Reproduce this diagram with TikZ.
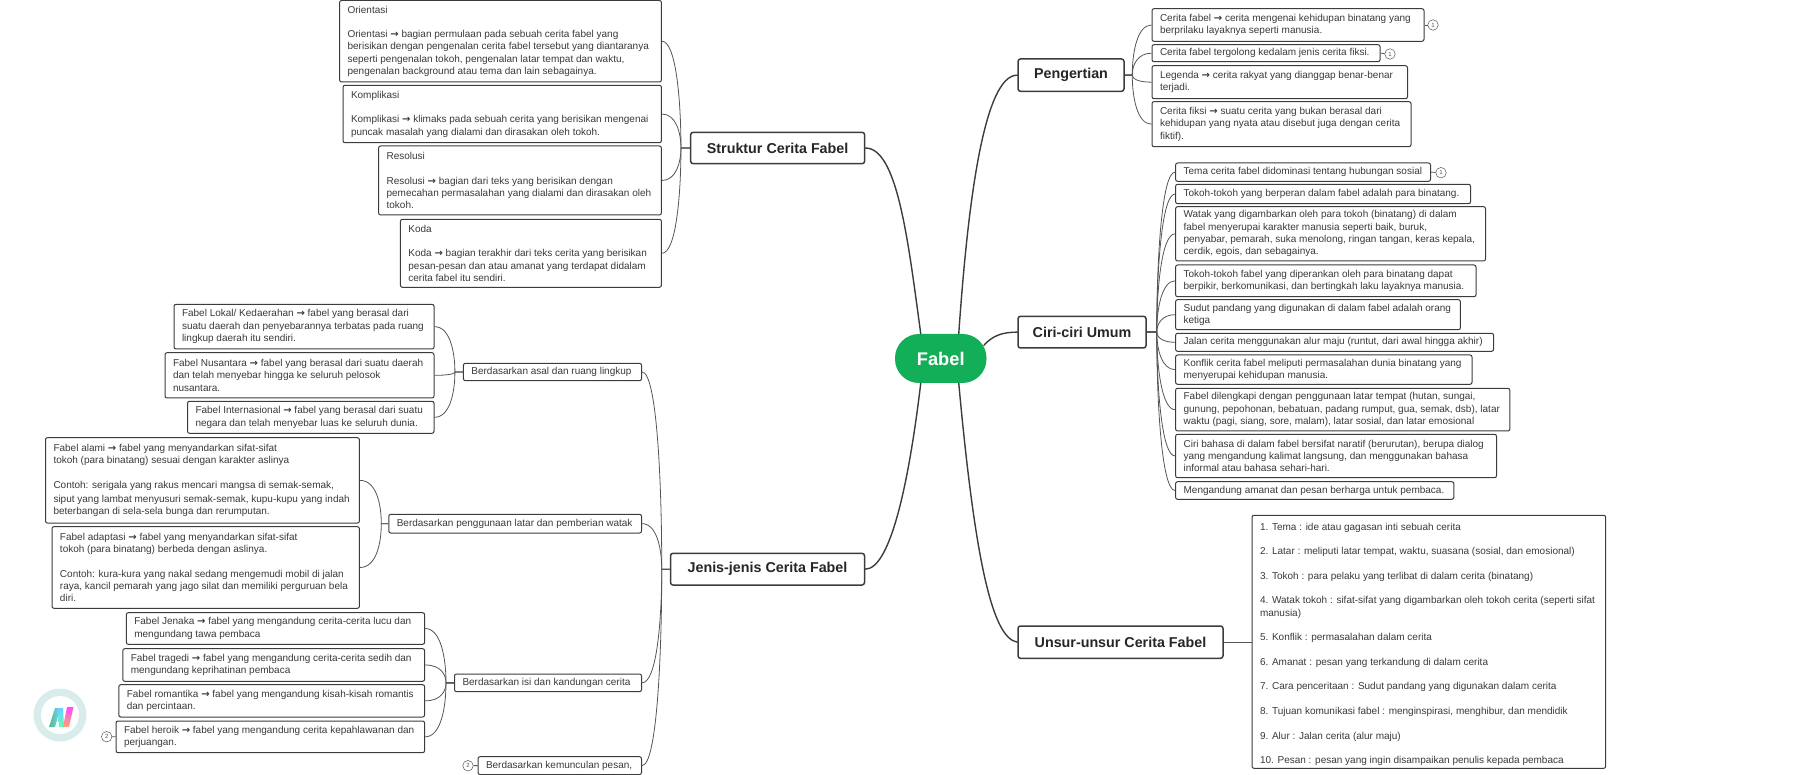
\documentclass[tikz,border=0pt]{standalone}
\usepackage{fontspec}
\setmainfont{Liberation Sans}
\newfontfamily\arrowfont{DejaVu Sans}[Scale=1.0]
\newcommand\arr{{\arrowfont\bfseries →}}
\usetikzlibrary{calc,shapes.geometric}
\definecolor{txt}{HTML}{3A3A3A}
\definecolor{edge}{HTML}{3C3C3C}
\definecolor{wire}{HTML}{555555}
\definecolor{fabelgreen}{HTML}{12AE58}
\tikzset{
  leaf/.style={draw=edge,line width=1pt,rounded corners=2pt,fill=white,text=txt,inner sep=0pt,
    font=\fontsize{10}{12.3}\selectfont,anchor=center},
  branch/.style={draw=edge,line width=1.5pt,rounded corners=2.5pt,fill=white,text=black!85,inner sep=0pt,
    font=\fontsize{14.3}{16}\selectfont\bfseries,align=center,anchor=center},
  trunk/.style={draw=edge,line width=1.4pt,line cap=round},
  twig/.style={draw=wire,line width=.8pt},
  badge/.style={draw=wire,line width=.5pt,circle,fill=white,minimum size=10.5pt,inner sep=0pt,text=wire,font=\fontsize{6}{6}\selectfont},
}
% name, x1,y1,x2,y2, text: box whose text starts 8 px from its left edge
\newcommand\leafbox[6]{%
  \pgfmathsetmacro\boxw{#4-#2}\pgfmathsetmacro\boxh{#5-#3}%
  \pgfmathsetmacro\textw{\boxw-8}%
  \node[leaf,minimum width=\boxw pt,minimum height=\boxh pt] (#1) at ({(#2+#4)/2},{(#3+#5)/2}) {\hspace*{8pt}\parbox[c]{\textw pt}{\raggedright\hyphenpenalty=10000 #6}};}
\newcommand\branchbox[6]{%
  \pgfmathsetmacro\boxw{#4-#2}\pgfmathsetmacro\boxh{#5-#3}%
  \node[branch,minimum width=\boxw pt,minimum height=\boxh pt] (#1) at ({(#2+#4)/2},{(#3+#5)/2}) {#6};}
% parent, child, stub: twig leaving to the right / to the left
\newcommand\twigR[3]{\draw[twig] (#1.east) -- ++(#3,0) coordinate (hub) .. controls ($(hub)!.45!(hub |- #2.west)$) and ($(hub |- #2.west)+(5,0)$) .. (#2.west);}
\newcommand\twigL[3]{\draw[twig] (#1.west) -- ++(-#3,0) coordinate (hub) .. controls ($(hub)!.45!(hub |- #2.east)$) and ($(hub |- #2.east)+(-5,0)$) .. (#2.east);}
\begin{document}
\begin{tikzpicture}[x=1pt,y=-1pt]
\useasboundingbox (0,0) rectangle (1800,775);
\clip (0,0) rectangle (1800,775);

% central
\node[fill=fabelgreen,rounded corners=24pt,minimum width=91.5pt,minimum height=49pt,inner sep=0pt,text=white,font=\fontsize{18.3}{20}\selectfont\bfseries] (fabel) at (940.75,358.5) {Fabel};

% branches
\branchbox{struktur}{690.7}{132.3}{864.6}{163.7}{Struktur Cerita Fabel}
\branchbox{jenis}{670.5}{553.3}{864.5}{585}{Jenis-jenis Cerita Fabel}
\branchbox{pengertian}{1018}{59}{1124}{91.3}{Pengertian}
\branchbox{ciri}{1018}{316.3}{1146}{348}{Ciri-ciri Umum}
\branchbox{unsur}{1018}{626}{1223}{658.3}{Unsur-unsur Cerita Fabel}

% trunk connectors
\draw[trunk] (pengertian.west) .. controls +(-33,0) and (968,200) .. ([xshift=18pt]fabel.north);
\draw[trunk] (ciri.west) .. controls +(-14,0) and (993,335) .. ([xshift=43pt,yshift=13pt]fabel.center);
\draw[trunk] (unsur.west) .. controls +(-25,-4) and (975,560) .. ([xshift=18pt]fabel.south);
\draw[trunk] (struktur.east) .. controls +(32,0) and (908,240) .. ([xshift=-20pt]fabel.north);
\draw[trunk] (jenis.east) .. controls +(24,0) and (908,490) .. ([xshift=-20pt]fabel.south);

% Struktur
\leafbox{orientasi}{339.6}{0.5}{661.4}{82}{Orientasi\\[12.3pt]Orientasi \arr{} bagian permulaan pada sebuah cerita fabel yang\\berisikan dengan pengenalan cerita fabel tersebut yang diantaranya\\seperti pengenalan tokoh, pengenalan latar tempat dan waktu,\\pengenalan background atau tema dan lain sebagainya.}
\leafbox{komplikasi}{343}{85.3}{661.4}{142.7}{Komplikasi\\[12.3pt]Komplikasi \arr{} klimaks pada sebuah cerita yang berisikan mengenai\\puncak masalah yang dialami dan dirasakan oleh tokoh.}
\leafbox{resolusi}{378.6}{146}{661.4}{215}{Resolusi\\[12.3pt]Resolusi \arr{} bagian dari teks yang berisikan dengan\\pemecahan permasalahan yang dialami dan dirasakan oleh\\tokoh.}
\leafbox{koda}{400.4}{219.3}{661.4}{287.3}{Koda\\[12.3pt]Koda \arr{} bagian terakhir dari teks cerita yang berisikan\\pesan-pesan dan atau amanat yang terdapat didalam\\cerita fabel itu sendiri.}
\twigL{struktur}{orientasi}{9}
\twigL{struktur}{komplikasi}{9}
\twigL{struktur}{resolusi}{9}
\twigL{struktur}{koda}{9}

% Jenis
\leafbox{asal}{463.4}{363.3}{641.5}{380.7}{Berdasarkan asal dan ruang lingkup}
\leafbox{guna}{388.8}{514.3}{641.5}{533}{Berdasarkan penggunaan latar dan pemberian watak}
\leafbox{isi}{454.5}{674}{641.5}{691.7}{Berdasarkan isi dan kandungan cerita}
\leafbox{muncul}{478}{756.7}{641.5}{774.5}{Berdasarkan kemunculan pesan,}
\twigL{jenis}{asal}{8}
\twigL{jenis}{guna}{8}
\twigL{jenis}{isi}{8}
\twigL{jenis}{muncul}{8}

\leafbox{lokal}{174}{304.3}{434}{349}{Fabel Lokal/ Kedaerahan \arr{} fabel yang berasal dari\\suatu daerah dan penyebarannya terbatas pada ruang\\lingkup daerah itu sendiri.}
\leafbox{nusantara}{165}{352.7}{434}{398}{Fabel Nusantara \arr{} fabel yang berasal dari suatu daerah\\dan telah menyebar hingga ke seluruh pelosok\\nusantara.}
\leafbox{internasional}{187.5}{401.3}{434}{433.3}{Fabel Internasional \arr{} fabel yang berasal dari suatu\\negara dan telah menyebar luas ke seluruh dunia.}
\twigL{asal}{lokal}{8}
\twigL{asal}{nusantara}{8}
\twigL{asal}{internasional}{8}

\leafbox{alami}{45.5}{437.7}{359.4}{523}{Fabel alami \arr{} fabel yang menyandarkan sifat-sifat\\tokoh (para binatang) sesuai dengan karakter aslinya\\[12.3pt]Contoh: serigala yang rakus mencari mangsa di semak-semak,\\[2pt]siput yang lambat menyusuri semak-semak, kupu-kupu yang indah\\beterbangan di sela-sela bunga dan rerumputan.}
\leafbox{adaptasi}{52}{526.7}{359.4}{608.3}{Fabel adaptasi \arr{} fabel yang menyandarkan sifat-sifat\\tokoh (para binatang) berbeda dengan aslinya.\\[12.3pt]Contoh: kura-kura yang nakal sedang mengemudi mobil di jalan\\raya, kancil pemarah yang jago silat dan memiliki perguruan bela\\diri.}
\twigL{guna}{alami}{7}
\twigL{guna}{adaptasi}{7}

\leafbox{jenaka}{126.3}{612.7}{424.6}{644.3}{Fabel Jenaka \arr{} fabel yang mengandung cerita-cerita lucu dan\\mengundang tawa pembaca}
\leafbox{tragedi}{122.8}{648.7}{424.6}{681.3}{Fabel tragedi \arr{} fabel yang mengandung cerita-cerita sedih dan\\mengundang keprihatinan pembaca}
\leafbox{romantika}{118.8}{684.7}{424.6}{717}{Fabel romantika \arr{} fabel yang mengandung kisah-kisah romantis\\dan percintaan.}
\leafbox{heroik}{116}{721}{424.6}{752.7}{Fabel heroik \arr{} fabel yang mengandung cerita kepahlawanan dan\\perjuangan.}
\twigL{isi}{jenaka}{8}
\twigL{isi}{tragedi}{8}
\twigL{isi}{romantika}{8}
\twigL{isi}{heroik}{8}

\node[badge] (bheroik) at (106.7,736.7) {2};
\draw[twig] (heroik.west) -- (bheroik);
\node[badge] (bmuncul) at (468,765.7) {2};
\draw[twig] (muncul.west) -- (bmuncul);

% Pengertian
\leafbox{p1}{1152}{8.7}{1424}{41.3}{Cerita fabel \arr{} cerita mengenai kehidupan binatang yang\\berprilaku layaknya seperti manusia.}
\leafbox{p2}{1152}{44.7}{1380}{61.7}{Cerita fabel tergolong kedalam jenis cerita fiksi.}
\leafbox{p3}{1152}{65.7}{1407.5}{98.7}{Legenda \arr{} cerita rakyat yang dianggap benar-benar\\terjadi.}
\leafbox{p4}{1152}{101.7}{1411}{146.7}{Cerita fiksi \arr{} suatu cerita yang bukan berasal dari\\kehidupan yang nyata atau disebut juga dengan cerita\\fiktif).}
\twigR{pengertian}{p1}{7.5}
\twigR{pengertian}{p2}{7.5}
\twigR{pengertian}{p3}{7.5}
\twigR{pengertian}{p4}{7.5}
\node[badge] (bp1) at (1433,25) {1};
\draw[twig] (p1.east) -- (bp1);
\node[badge] (bp2) at (1390,54) {1};
\draw[twig] (p2.east) -- (bp2);

% Ciri
\leafbox{c1}{1175.6}{163}{1430.5}{181.3}{Tema cerita fabel didominasi tentang hubungan sosial}
\leafbox{c2}{1175.6}{184.3}{1470.6}{203.7}{Tokoh-tokoh yang berperan dalam fabel adalah para binatang.}
\leafbox{c3}{1175.6}{206.7}{1485.5}{261}{Watak yang digambarkan oleh para tokoh (binatang) di dalam\\fabel menyerupai karakter manusia seperti baik, buruk,\\penyabar, pemarah, suka menolong, ringan tangan, keras kepala,\\cerdik, egois, dan sebagainya.}
\leafbox{c4}{1175.6}{265}{1476}{296.7}{Tokoh-tokoh fabel yang diperankan oleh para binatang dapat\\berpikir, berkomunikasi, dan bertingkah laku layaknya manusia.}
\leafbox{c5}{1175.6}{299.7}{1460.4}{329.7}{Sudut pandang yang digunakan di dalam fabel adalah orang\\ketiga}
\leafbox{c6}{1175.6}{333.3}{1493.6}{351.3}{Jalan cerita menggunakan alur maju (runtut, dari awal hingga akhir)}
\leafbox{c7}{1175.6}{355}{1472}{384.3}{Konflik cerita fabel meliputi permasalahan dunia binatang yang\\menyerupai kehidupan manusia.}
\leafbox{c8}{1175.6}{388.3}{1509.8}{431}{Fabel dilengkapi dengan penggunaan latar tempat (hutan, sungai,\\gunung, pepohonan, bebatuan, padang rumput, gua, semak, dsb), latar\\waktu (pagi, siang, sore, malam), latar sosial, dan latar emosional}
\leafbox{c9}{1175.6}{434.3}{1496.5}{477.7}{Ciri bahasa di dalam fabel bersifat naratif (berurutan), berupa dialog\\yang mengandung kalimat langsung, dan menggunakan bahasa\\informal atau bahasa sehari-hari.}
\leafbox{c10}{1175.6}{481.7}{1453.8}{499.3}{Mengandung amanat dan pesan berharga untuk pembaca.}
\foreach \n in {c1,c2,c3,c4,c5,c6,c7,c8,c9,c10}{\twigR{ciri}{\n}{10}}
\node[badge] (bc1) at (1441,172.7) {1};
\draw[twig] (c1.east) -- (bc1);

% Unsur
\leafbox{unsurlist}{1252}{515.3}{1605.7}{768.3}{\vspace*{5pt}1. Tema : ide atau gagasan inti sebuah cerita\\[12.3pt]2. Latar : meliputi latar tempat, waktu, suasana (sosial, dan emosional)\\[12.3pt]3. Tokoh : para pelaku yang terlibat di dalam cerita (binatang)\\[12.3pt]4. Watak tokoh : sifat-sifat yang digambarkan oleh tokoh cerita (seperti sifat\\manusia)\\[12.3pt]5. Konflik : permasalahan dalam cerita\\[12.3pt]6. Amanat : pesan yang terkandung di dalam cerita\\[12.3pt]7. Cara penceritaan : Sudut pandang yang digunakan dalam cerita\\[12.3pt]8. Tujuan komunikasi fabel : menginspirasi, menghibur, dan mendidik\\[12.3pt]9. Alur : Jalan cerita (alur maju)\\[12.3pt]10. Pesan : pesan yang ingin disampaikan penulis kepada pembaca}
\draw[twig] (unsur.east) -- (unsurlist.west |- unsur.east);

% logo
\fill[teal!15] (60,715) circle (26.5);
\fill[white] (60,715) circle (19);
\shade[left color=teal!70!green!70,right color=cyan!60!blue!50] (49,727) -- (55,708) -- (60.5,708) -- (55,727) -- cycle;
\shade[bottom color=green!50!cyan!60,top color=cyan!70!blue!60] (58,708) -- (63,708) -- (64,727) -- (59,727) -- cycle;
\shade[bottom color=orange!40!pink,top color=magenta!70] (67,707) -- (73.5,707) -- (69,727) -- (63,727) -- cycle;
\end{tikzpicture}
\end{document}
